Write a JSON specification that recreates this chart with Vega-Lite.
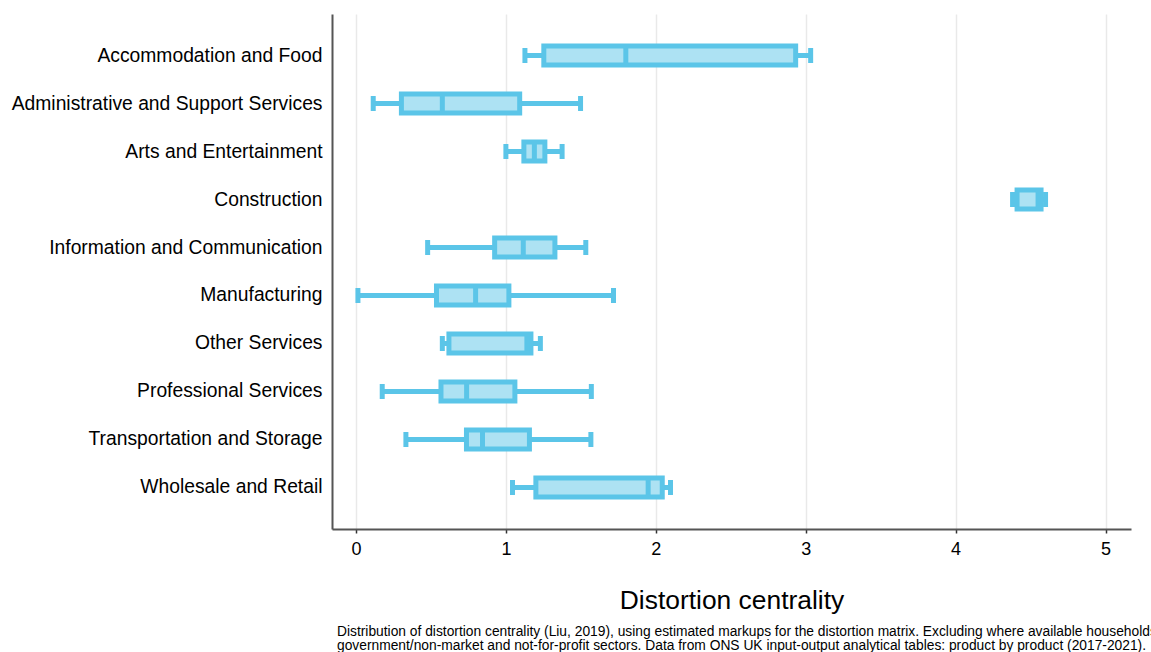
{
  "$schema": "https://vega.github.io/schema/vega-lite/v6.json",
  "width": 799,
  "height": 515,
  "autosize": "none",
  "padding": {"left": 332, "top": 14, "right": 20, "bottom": 123},
  "background": "white",
  "config": {
    "view": {"stroke": null},
    "font": "Liberation Sans"
  },
  "title": {
    "text": [
      "Distribution of distortion centrality (Liu, 2019), using estimated markups for the distortion matrix. Excluding where available households,",
      "government/non-market and not-for-profit sectors. Data from ONS UK input-output analytical tables: product by product (2017-2021)."
    ],
    "orient": "bottom",
    "anchor": "start",
    "frame": "group",
    "font": "Liberation Sans",
    "fontSize": 13.8,
    "fontWeight": "normal",
    "color": "#000000",
    "lineHeight": 14,
    "offset": 12,
    "dx": 5
  },
  "data": {
    "values": [
      {"sector": "Accommodation and Food", "lo": 1.127, "q1": 1.253, "median": 1.8, "q3": 2.933, "hi": 3.033},
      {"sector": "Administrative and Support Services", "lo": 0.115, "q1": 0.303, "median": 0.576, "q3": 1.092, "hi": 1.498},
      {"sector": "Arts and Entertainment", "lo": 1.0, "q1": 1.12, "median": 1.19, "q3": 1.26, "hi": 1.375},
      {"sector": "Construction", "lo": 4.38, "q1": 4.41, "median": 4.55, "q3": 4.57, "hi": 4.6},
      {"sector": "Information and Communication", "lo": 0.478, "q1": 0.925, "median": 1.116, "q3": 1.327, "hi": 1.533},
      {"sector": "Manufacturing", "lo": 0.013, "q1": 0.537, "median": 0.798, "q3": 1.02, "hi": 1.718},
      {"sector": "Other Services", "lo": 0.576, "q1": 0.62, "median": 1.14, "q3": 1.167, "hi": 1.23},
      {"sector": "Professional Services", "lo": 0.175, "q1": 0.567, "median": 0.738, "q3": 1.06, "hi": 1.57},
      {"sector": "Transportation and Storage", "lo": 0.333, "q1": 0.737, "median": 0.844, "q3": 1.157, "hi": 1.567},
      {"sector": "Wholesale and Retail", "lo": 1.044, "q1": 1.2, "median": 1.949, "q3": 2.043, "hi": 2.098}
    ]
  },
  "encoding": {
    "y": {
      "field": "sector",
      "type": "nominal",
      "sort": null,
      "scale": {"paddingInner": 0.5, "paddingOuter": 0.615},
      "axis": {
        "title": null,
        "ticks": false,
        "grid": false,
        "domain": true,
        "domainColor": "#555555",
        "domainWidth": 2,
        "labelFont": "Liberation Sans",
        "labelFontSize": 19.3,
        "labelColor": "#000000",
        "labelPadding": 10,
        "labelLimit": 400
      }
    }
  },
  "layer": [
    {
      "mark": {"type": "rule", "color": "#5BC5E8", "strokeWidth": 5},
      "encoding": {
        "x": {
          "field": "lo",
          "type": "quantitative",
          "scale": {"domain": [-0.16, 5.17], "nice": false, "zero": false},
          "axis": {
            "title": "Distortion centrality",
            "values": [0, 1, 2, 3, 4, 5],
            "format": "d",
            "grid": true,
            "gridColor": "#E9E9E9",
            "gridWidth": 1.5,
            "domainColor": "#555555",
            "domainWidth": 2,
            "tickColor": "#333333",
            "tickSize": 4,
            "tickWidth": 1.5,
            "labelFont": "Liberation Sans",
            "labelFontSize": 18,
            "labelColor": "#000000",
            "labelPadding": 7,
            "titleFont": "Liberation Sans",
            "titleFontSize": 26.4,
            "titleFontWeight": "normal",
            "titleColor": "#000000",
            "titlePadding": 29
          }
        },
        "x2": {"field": "hi"}
      }
    },
    {
      "mark": {"type": "tick", "color": "#5BC5E8", "size": 15, "thickness": 5, "opacity": 1},
      "encoding": {"x": {"field": "lo", "type": "quantitative"}}
    },
    {
      "mark": {"type": "tick", "color": "#5BC5E8", "size": 15, "thickness": 5, "opacity": 1},
      "encoding": {"x": {"field": "hi", "type": "quantitative"}}
    },
    {
      "mark": {"type": "bar", "fill": "#ADE2F3", "stroke": "#5BC5E8", "strokeWidth": 5, "size": 19},
      "encoding": {
        "x": {"field": "q1", "type": "quantitative"},
        "x2": {"field": "q3"}
      }
    },
    {
      "mark": {"type": "tick", "color": "#5BC5E8", "size": 19, "thickness": 5, "opacity": 1},
      "encoding": {"x": {"field": "median", "type": "quantitative"}}
    }
  ]
}
